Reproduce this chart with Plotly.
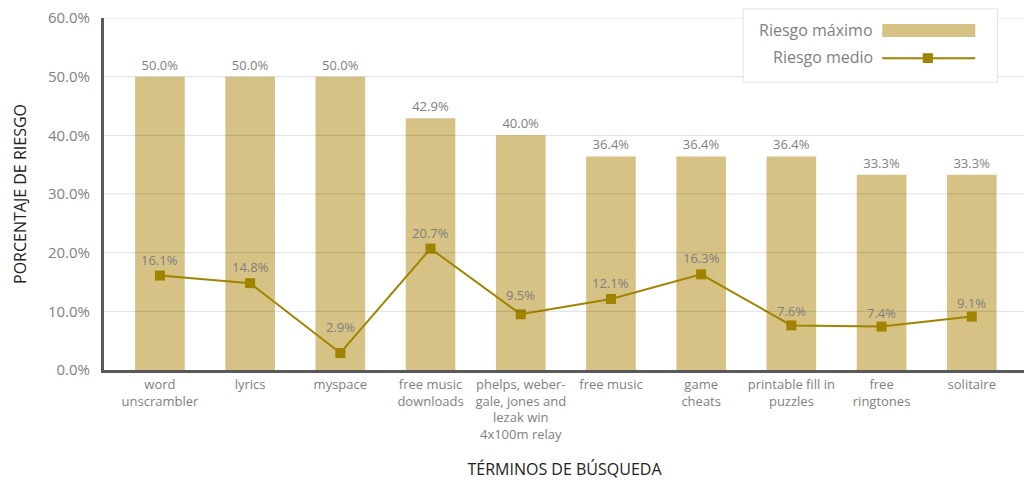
import plotly.graph_objects as go

# ---- datos ----
terminos = [
    "word<br>unscrambler",
    "lyrics",
    "myspace",
    "free music<br>downloads",
    "phelps, weber-<br>gale, jones and<br>lezak win<br>4x100m relay",
    "free music",
    "game<br>cheats",
    "printable fill in<br>puzzles",
    "free<br>ringtones",
    "solitaire",
]
riesgo_maximo = [50.0, 50.0, 50.0, 42.9, 40.0, 36.4, 36.4, 36.4, 33.3, 33.3]
riesgo_medio = [16.1, 14.8, 2.9, 20.7, 9.5, 12.1, 16.3, 7.6, 7.4, 9.1]
y_ticks = [0, 10, 20, 30, 40, 50, 60]

# separación (px) de cada etiqueta sobre su marcador
label_shift = [16, 16, 26, 16, 19, 16, 16, 14, 14, 14]

BAR = "#D6C284"
LINE = "#A08400"
GRIS = "#7F7F7F"
FONT = "Open Sans"

x_pos = list(range(len(terminos)))

fig = go.Figure()

fig.add_trace(go.Bar(
    x=x_pos,
    y=riesgo_maximo,
    width=0.55,
    marker=dict(color=BAR, line=dict(width=0)),
    text=[f"{v:.1f}%" for v in riesgo_maximo],
    textposition="outside",
    textfont=dict(color=GRIS, size=13, family=FONT),
    cliponaxis=False,
    name="Riesgo máximo",
))

fig.add_trace(go.Scatter(
    x=x_pos,
    y=riesgo_medio,
    mode="lines+markers",
    line=dict(color=LINE, width=2),
    marker=dict(symbol="square", size=10, color=LINE),
    cliponaxis=False,
    name="Riesgo medio",
))

# etiquetas de la línea
annotations = [
    dict(x=i, y=v, text=f"{v:.1f}%", showarrow=False, yshift=s, yanchor="middle",
         font=dict(color=GRIS, size=13, family=FONT))
    for i, v, s in zip(x_pos, riesgo_medio, label_shift)
]

# líneas de cuadrícula por encima de las barras
shapes = [
    dict(type="line", xref="paper", yref="y", x0=0, x1=1, y0=t, y1=t,
         line=dict(color="rgba(0,0,0,0.13)", width=1), layer="above")
    for t in y_ticks[1:]
]

# ---- leyenda manual (símbolo a la derecha del texto) ----
shapes += [
    dict(type="rect", xref="paper", yref="paper", x0=0.694, x1=0.970, y0=0.818, y1=1.026,
         line=dict(color="#E3E3E3", width=1), fillcolor="white", layer="above"),
    dict(type="rect", xref="paper", yref="paper", x0=0.845, x1=0.946, y0=0.946, y1=0.983,
         line=dict(width=0), fillcolor=BAR, layer="above"),
    dict(type="line", xref="paper", yref="paper", x0=0.845, x1=0.946, y0=0.886, y1=0.886,
         line=dict(color=LINE, width=2), layer="above"),
    dict(type="rect", xref="paper", yref="paper", x0=0.889, x1=0.900, y0=0.872, y1=0.900,
         line=dict(width=0), fillcolor=LINE, layer="above"),
]
annotations += [
    dict(text="Riesgo máximo", xref="paper", yref="paper", x=0.837, y=0.966,
         xanchor="right", yanchor="middle", showarrow=False,
         font=dict(color=GRIS, size=16, family=FONT)),
    dict(text="Riesgo medio", xref="paper", yref="paper", x=0.837, y=0.889,
         xanchor="right", yanchor="middle", showarrow=False,
         font=dict(color=GRIS, size=16, family=FONT)),
]

# la página añade 8 px de margen al cuerpo: se compensa aquí
fig.update_layout(
    width=1024, height=472,
    margin=dict(l=96, r=7, t=10, b=110),
    plot_bgcolor="white", paper_bgcolor="white",
    showlegend=False,
    font=dict(family=FONT, color=GRIS, size=13),
    shapes=shapes,
    annotations=annotations,
)

fig.update_xaxes(
    tickmode="array",
    tickvals=x_pos,
    ticktext=terminos,
    range=[-0.62, 9.59],
    automargin=False,
    showgrid=False,
    showline=True, linecolor="#595959", linewidth=3,
    ticks="", tickangle=0,
    tickfont=dict(size=13, color=GRIS, family=FONT),
    title=dict(text="TÉRMINOS DE BÚSQUEDA", font=dict(size=16, color="#222222", family=FONT),
               standoff=22),
)

fig.update_yaxes(
    range=[0, 60],
    tickvals=y_ticks,
    ticktext=[f"{v:.1f}%" for v in y_ticks],
    automargin=False,
    showgrid=False,
    showline=True, linecolor="#595959", linewidth=3,
    zeroline=False,
    ticks="", ticklabelstandoff=8,
    ticklabeloverflow="allow",
    tickfont=dict(size=15, color=GRIS, family=FONT),
    title=dict(text="PORCENTAJE DE RIESGO", font=dict(size=16, color="#222222", family=FONT),
               standoff=18),
)

fig.write_html("out.html")
